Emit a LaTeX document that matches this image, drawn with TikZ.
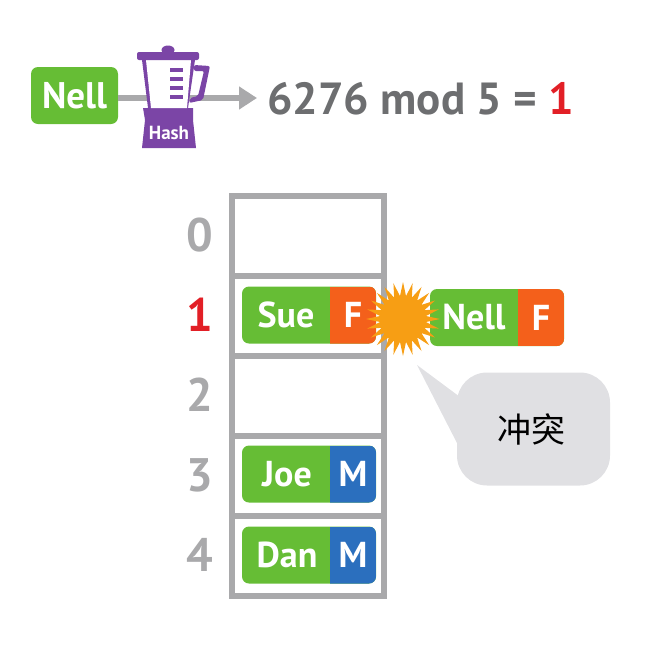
\documentclass[tikz,border=0pt]{standalone}
\usepackage{fontspec}
\setmainfont{PT Sans}
\newfontfamily\cjk{Noto Sans CJK SC}
\usetikzlibrary{positioning,arrows.meta,shapes.geometric}

\definecolor{recgreen}{HTML}{66BD35}
\definecolor{recorange}{HTML}{F4601B}
\definecolor{recblue}{HTML}{2B6FBE}
\definecolor{tablegray}{HTML}{A9A9AB}
\definecolor{textgray}{HTML}{6D6E70}
\definecolor{hitred}{HTML}{E21F26}
\definecolor{blendpurple}{HTML}{7B45A6}
\definecolor{burst}{HTML}{F79E14}
\definecolor{bubble}{HTML}{E0E0E3}

\tikzset{
  cell/.style={draw=tablegray, line width=6pt, minimum width=152pt, minimum height=80pt, inner sep=0pt},
  rowno/.style={text=tablegray, font=\bfseries\fontsize{47}{47}\selectfont, inner sep=0pt},
  rec/.style={fill=recgreen, rounded corners=7pt, minimum width=134pt, minimum height=57pt, inner sep=0pt,
    path picture={\fill[#1, sharp corners] ([xshift=88pt]path picture bounding box.south west) rectangle (path picture bounding box.north east);}},
  rectxt/.style={text=white, font=\bfseries\fontsize{36}{36}\selectfont, inner sep=0pt},
  jar/.style={fill=blendpurple},
}

\begin{document}
\begin{tikzpicture}[x=1pt, y=-1pt, node distance=80pt, on grid]
\useasboundingbox (0,0) rectangle (663,648);

% hash line
\node[fill=recgreen, rounded corners=7pt, minimum width=87pt, minimum height=57pt, inner sep=0pt, text=white, font=\bfseries\fontsize{37}{37}\selectfont] (nell) at (74.5,95.5) {Nell};
\coordinate (tip) at (257,98);
\draw[tablegray, line width=6pt, -{Triangle[length=18pt, width=22pt]}] (nell.east |- tip) -- (tip);
\node[anchor=base west, inner sep=0pt, text=textgray, font=\bfseries\fontsize{45}{45}\selectfont] (calc) at (267,114) {6276 mod 5 = \textcolor{hitred}{1}};

% blender
\fill[jar] (142,60) -- (195,60) -- (188,108) -- (193,108) -- (193,120) -- (196,148) -- (142,148) -- (145,120) -- (143,108) -- (148,108) -- cycle;
\fill[white] (146,60) -- (191,60) -- (187,108) -- (151,108) -- cycle;
\fill[jar, rounded corners=2pt] (137,52) rectangle (199,60);
\fill[jar] (168,50) ellipse (6.5 and 4.5);
\fill[jar, rounded corners=2pt] (194,65) -- (210,66) -- (203,100) -- (189,103) -- (190,98) -- (198,96) -- (204,71) -- (194,71) -- cycle;
\fill[jar] (170,68) rectangle (183,72);
\fill[jar] (170,77) rectangle (183,81);
\fill[jar] (170,86) rectangle (183,90);
\fill[jar] (170,95) rectangle (183,99);
\node[text=white, font=\bfseries\fontsize{19}{19}\selectfont, inner sep=0pt] (hash) at (169,133) {Hash};

% table
\node[cell] (c0) at (308,235.5) {};
\node[cell] (c1) [below=of c0] {};
\node[cell] (c2) [below=of c1] {};
\node[cell] (c3) [below=of c2] {};
\node[cell] (c4) [below=of c3] {};
\node[rowno] (n0) at (200,235) {0};
\node[rowno] (n1) [below=of n0, text=hitred] {1};
\node[rowno] (n2) [below=of n1] {2};
\node[rowno] (n3) [below=of n2] {3};
\node[rowno] (n4) [below=of n3] {4};

% records
\node[rec=recorange] (sue) at (309,315) {};
\node[rectxt] (suename) at (286,315) {Sue};
\node[rectxt] (suesex) at (353,315) {F};
\node[rec=recblue] (joe) at (309,474) {};
\node[rectxt] (joename) at (287,474) {Joe};
\node[rectxt] (joesex) at (353,474) {M};
\node[rec=recblue] (dan) at (309,555) {};
\node[rectxt] (danname) at (287,555) {Dan};
\node[rectxt] (dansex) at (353,555) {M};
\node[rec=recorange] (nell2) at (497,317.5) {};
\node[rectxt] (nell2name) at (474,317.5) {Nell};
\node[rectxt] (nell2sex) at (541,317.5) {F};

% collision
\node[star, star points=24, star point ratio=1.6, fill=burst, minimum size=74pt, inner sep=0pt] (hit) at (403,319) {};
\coordinate (point) at (417,365);
\node[fill=bubble, rounded corners=30pt, minimum width=153pt, minimum height=113pt, inner sep=0pt] (note) at (533.5,429) {};
\fill[bubble] (point) -- (460,397) -- (458,445) -- cycle;
\node[font=\cjk\fontsize{34}{34}\selectfont, inner sep=0pt] (notetxt) at (531,429) {冲突};
\end{tikzpicture}
\end{document}
